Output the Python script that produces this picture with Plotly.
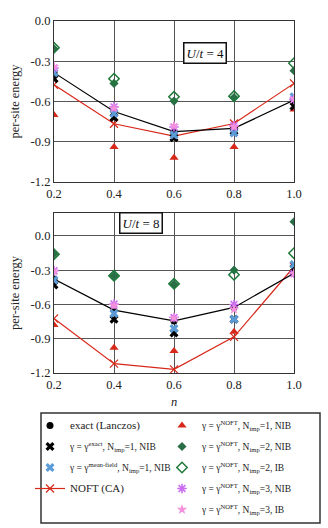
import plotly.graph_objects as go

n = [0.2, 0.4, 0.6, 0.8, 1.0]

# U/t = 4
u4_exact = [-0.385, -0.675, -0.825, -0.80, -0.59]
u4_gexact = [-0.43, -0.72, -0.87, -0.82, -0.635]
u4_gmf = [-0.385, -0.69, -0.85, -0.835, -0.565]
u4_ca = [-0.475, -0.766, -0.858, -0.764, -0.465]
u4_n1nib = [-0.70, -0.94, -1.02, -0.94, -0.66]
u4_n2nib = [-0.207, -0.465, -0.597, -0.57, -0.37]
u4_n2ib = [-0.20, -0.43, -0.565, -0.56, -0.315]
u4_n3nib = [-0.35, -0.64, -0.79, -0.78, -0.585]
u4_n3ib = [-0.34, -0.65, -0.78, -0.79, -0.58]

# U/t = 8
u8_exact = [-0.378, -0.65, -0.744, -0.626, -0.328]
u8_gexact = [-0.43, -0.73, -0.85, -0.73, -0.285]
u8_gmf = [-0.386, -0.68, -0.81, -0.73, -0.25]
u8_ca = [-0.723, -1.118, -1.168, -0.884, -0.27]
u8_n1nib = [-0.78, -0.98, -1.007, -0.84, -0.29]
u8_n2nib = [-0.158, -0.351, -0.424, -0.30, 0.123]
u8_n2ib = [-0.16, -0.35, -0.42, -0.34, -0.152]
u8_n3nib = [-0.305, -0.597, -0.714, -0.60, -0.33]
u8_n3ib = [-0.31, -0.61, -0.72, -0.644, -0.33]

x_ticks = [0.2, 0.4, 0.6, 0.8, 1.0]
x_ticktext = ["0.2", "0.4", "0.6", "0.8", "1.0"]
y_ticks = [0.0, -0.3, -0.6, -0.9, -1.2]
y_ticktext = ["0.0", "-0.3", "-0.6", "-0.9", "-1.2"]

names = [
    '<span style="font-size:11px">exact (Lanczos)</span>',
    "γ = γ<sup>exact</sup>, N<sub>imp</sub>=1, NIB",
    "γ = γ<sup>mean-field</sup>, N<sub>imp</sub>=1, NIB",
    '<span style="font-size:11px">NOFT (CA)</span>',
    "γ = γ<sup>NOFT</sup>, N<sub>imp</sub>=1, NIB",
    "γ = γ<sup>NOFT</sup>, N<sub>imp</sub>=2, NIB",
    "γ = γ<sup>NOFT</sup>, N<sub>imp</sub>=2, IB",
    "γ = γ<sup>NOFT</sup>, N<sub>imp</sub>=3, NIB",
    "γ = γ<sup>NOFT</sup>, N<sub>imp</sub>=3, IB",
]

RED = "#d8281a"
GREEN = "#2a6e48"
GREEN2 = "#1f7a3a"
BLUE = "#5b9bd8"
VIOLET = "#cc6ef2"
PINK = "#f590dc"

styles = [
    dict(mode="lines+markers", line=dict(color="black", width=1.2),
         marker=dict(symbol="circle", size=7, color="black")),
    dict(mode="markers", marker=dict(symbol="x", size=8, color="black", line=dict(width=0))),
    dict(mode="markers", marker=dict(symbol="x", size=8, color=BLUE, line=dict(width=0))),
    dict(mode="lines+markers", line=dict(color=RED, width=1.2),
         marker=dict(symbol="x-thin-open", size=8, color=RED, line=dict(width=1.2, color=RED))),
    dict(mode="markers", marker=dict(symbol="triangle-up", size=8, color=RED)),
    dict(mode="markers", marker=dict(symbol="diamond", size=7, color=GREEN)),
    dict(mode="markers", marker=dict(symbol="diamond-open", size=8, color=GREEN2, line=dict(width=1.5, color=GREEN2))),
    dict(mode="markers", marker=dict(symbol="asterisk-open", size=8, color=VIOLET, line=dict(width=1.6, color=VIOLET))),
    dict(mode="markers", marker=dict(symbol="star", size=8, color=PINK)),
]

legend_styles = [
    dict(mode="markers", marker=dict(symbol="circle", size=7, color="black")),
    styles[1], styles[2],
    dict(mode="lines+markers", line=dict(color=RED, width=1.2),
         marker=dict(symbol="x-thin-open", size=8, color=RED, line=dict(width=1.2, color=RED))),
    styles[4], styles[5], styles[6], styles[7], styles[8],
]

left_col = [0, 1, 2, 3]
right_col = [4, 5, 6, 7, 8]

u4 = [u4_exact, u4_gexact, u4_gmf, u4_ca, u4_n1nib, u4_n2nib, u4_n2ib, u4_n3nib, u4_n3ib]
u8 = [u8_exact, u8_gexact, u8_gmf, u8_ca, u8_n1nib, u8_n2nib, u8_n2ib, u8_n3nib, u8_n3ib]

fig = go.Figure()

draw_order = [3, 0, 4, 5, 6, 1, 2, 7, 8]
for i in draw_order:
    fig.add_trace(go.Scatter(x=n, y=u4[i], xaxis="x", yaxis="y", showlegend=False,
                             hoverinfo="skip", **styles[i]))
for i in draw_order:
    fig.add_trace(go.Scatter(x=n, y=u8[i], xaxis="x2", yaxis="y2", showlegend=False,
                             hoverinfo="skip", **styles[i]))

for col, legname in ((left_col, "legend"), (right_col, "legend2")):
    for rank, i in enumerate(col):
        fig.add_trace(go.Scatter(x=[None], y=[None], name=names[i], legend=legname,
                                 legendgroup="g%d" % i, legendrank=rank + 1,
                                 showlegend=True, **legend_styles[i]))

FONT = "Liberation Serif"
axis_common = dict(showgrid=True, gridcolor="#555555", gridwidth=1,
                   showline=True, linecolor="#333333", linewidth=1.2, mirror=True,
                   zeroline=False, ticks="", ticklen=0,
                   tickfont=dict(family=FONT, size=12.5, color="#222"),
                   automargin=False)

leg_common = dict(orientation="v", xanchor="left", yanchor="top",
                  borderwidth=0, bgcolor="rgba(0,0,0,0)", tracegroupgap=2,
                  font=dict(family=FONT, size=9.5, color="#222"), traceorder="grouped")

W, H = 328, 528
xd = [54 / W, 294 / W]
fig.update_layout(
    width=W, height=H,
    margin=dict(l=0, r=0, t=0, b=0, autoexpand=False),
    paper_bgcolor="white", plot_bgcolor="white",
    font=dict(family=FONT, color="#222"),
    xaxis=dict(domain=xd, range=[0.2, 1.0], tickvals=x_ticks, ticktext=x_ticktext,
               anchor="y", **axis_common),
    yaxis=dict(domain=[1 - 182 / H, 1 - 21 / H], range=[-1.2, 0.0], tickvals=y_ticks,
               ticktext=y_ticktext, anchor="x",
               title=dict(text="per-site energy", font=dict(family=FONT, size=12.5), standoff=8),
               **axis_common),
    xaxis2=dict(domain=xd, range=[0.2, 1.0], tickvals=x_ticks, ticktext=x_ticktext,
                anchor="y2", title=dict(text="<i>n</i>", font=dict(family=FONT, size=12.5), standoff=6),
                **axis_common),
    yaxis2=dict(domain=[1 - 373 / H, 1 - 213 / H], range=[-1.2, 0.2], tickvals=y_ticks,
                ticktext=y_ticktext, anchor="x2",
                title=dict(text="per-site energy", font=dict(family=FONT, size=12.5), standoff=8),
                **axis_common),
    legend=dict(x=30 / W, y=1 - 411 / H, **leg_common),
    legend2=dict(x=162 / W, y=1 - 411 / H, **leg_common),
    shapes=[dict(type="rect", xref="paper", yref="paper",
                 x0=41 / W, x1=320 / W, y0=1 - 523 / H, y1=1 - 413 / H,
                 line=dict(color="#333333", width=1.5), fillcolor="rgba(0,0,0,0)")],
    annotations=[
        dict(text="<i>U</i>/<i>t</i> = 4", xref="paper", yref="paper",
             x=205.5 / W, y=1 - 42.5 / H, showarrow=False,
             font=dict(family=FONT, size=13, color="#111"),
             bordercolor="#111", borderwidth=1.5, borderpad=2, bgcolor="white"),
        dict(text="<i>U</i>/<i>t</i> = 8", xref="paper", yref="paper",
             x=140.5 / W, y=1 - 223 / H, showarrow=False,
             font=dict(family=FONT, size=13, color="#111"),
             bordercolor="#111", borderwidth=1.5, borderpad=2, bgcolor="white"),
    ],
)

fig.write_html("out.html", config={"displayModeBar": False},
               post_script="document.body.style.margin='0px';document.body.style.overflow='hidden';")
